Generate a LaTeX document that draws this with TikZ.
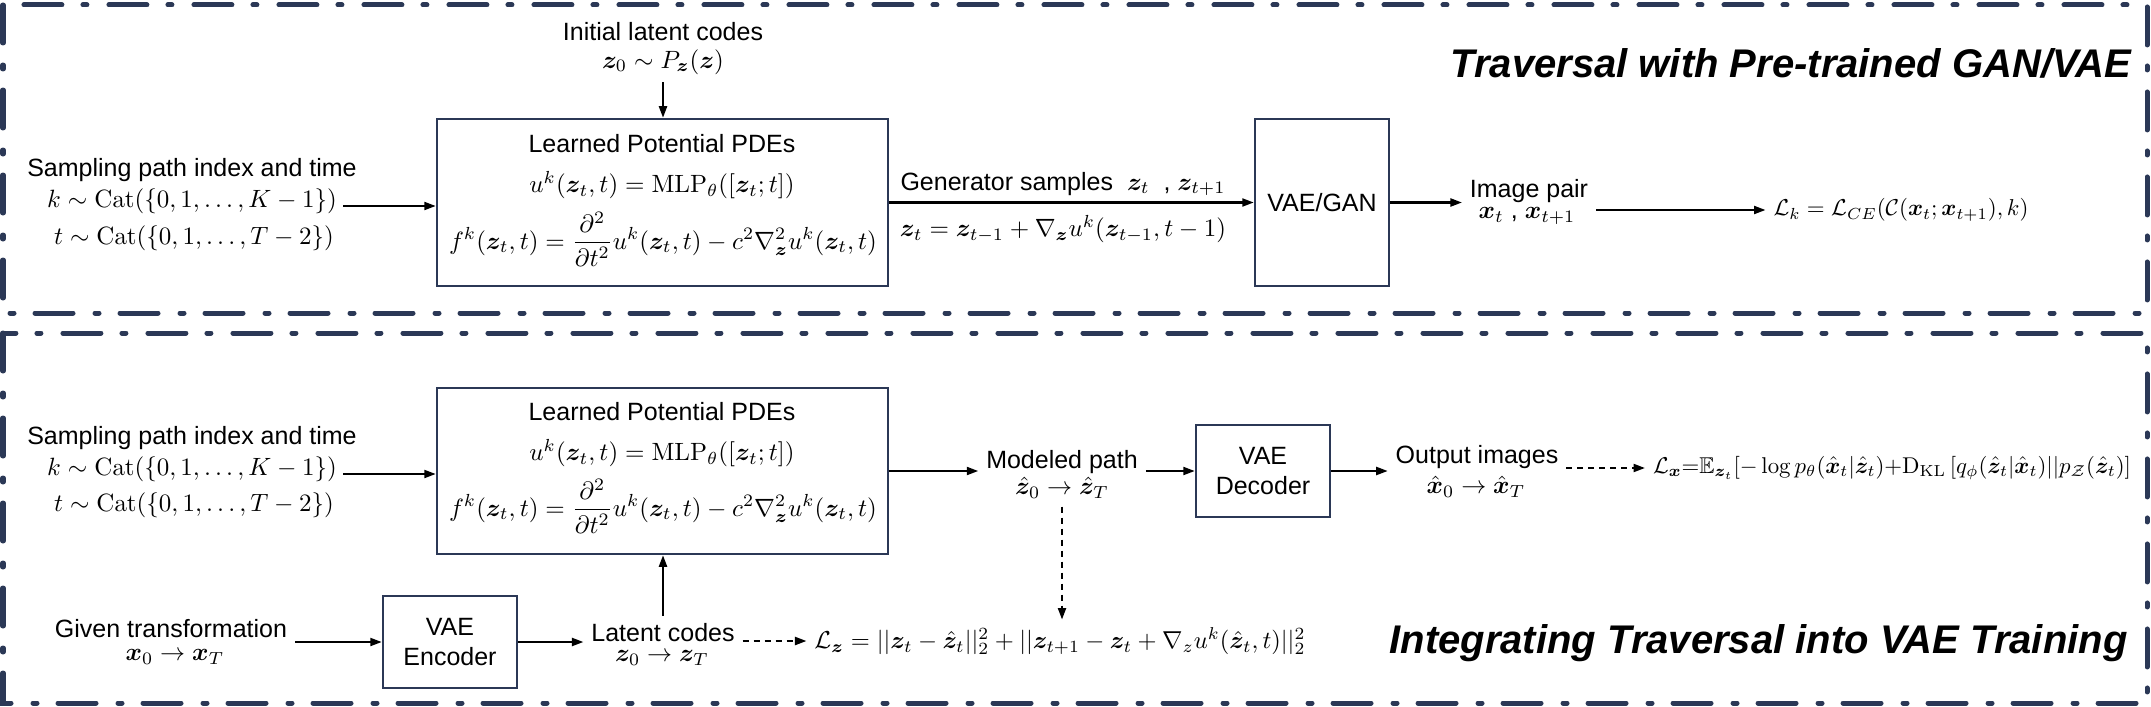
\documentclass[tikz,border=0pt]{standalone}
\usepackage{amsmath,amssymb,bm,graphicx}
\usepackage[no-math]{fontspec}
\setmainfont{Liberation Sans}
\usetikzlibrary{arrows.meta}
\definecolor{navy}{HTML}{2B3856}
\begin{document}
\begin{tikzpicture}[x=0.4pt,y=-0.4pt,
  frame/.style={draw=navy, line width=2pt, line cap=round, dash pattern=on 15.2pt off 8.8pt on 1.6pt off 8.4pt},
  boxst/.style={draw=navy, line width=1pt, inner sep=0pt, align=center, font=\fontsize{10}{12}\selectfont},
  arr/.style={-{Triangle[length=4.6pt,width=3.2pt]}, line width=0.85pt},
  darr/.style={arr, dash pattern=on 2.4pt off 2pt},
  txt/.style={font=\fontsize{10}{12}\selectfont, inner sep=0pt, outer sep=3.2pt},
  ttl/.style={font=\fontsize{16}{19}\selectfont\bfseries\itshape, inner sep=0pt}]
\useasboundingbox (0,0) rectangle (2151,706);
% frames
\draw[frame] (3,5) rectangle (2147,313);
\draw[frame] (3,333) rectangle (2147,703);
% ---------------- top panel
\node[boxst, minimum width=180.4pt, minimum height=66.8pt] (learnA) at (662.5,202.5) {};
\node[txt] (learnAt) at (662,144) {Learned Potential PDEs};
\node[txt] (learnAu) at (662,185) {$u^k(\bm z_t,t)=\mathrm{MLP}_\theta([\bm z_t;t])$};
\node[txt] (learnAf) at (663,239) {$f^k(\bm z_t,t)=\dfrac{\partial^2}{\partial t^2}u^k(\bm z_t,t)-c^2\nabla^2_{\bm z}u^k(\bm z_t,t)$};
\node[txt] (sampA) at (192,170) {Sampling path index and time};
\node[txt] (sampAk) at (192,201) {$k\sim\mathrm{Cat}(\{0,1,\ldots,K-1\})$};
\node[txt] (sampAt) at (194,238) {$t\sim\mathrm{Cat}(\{0,1,\ldots,T-2\})$};
\coordinate (sampAo) at (343,206);
\draw[arr] (sampAo) -- (sampAo -| learnA.west);
\node[txt] (initT) at (663,32) {Initial latent codes};
\node[txt] (initZ) at (663,62) {$\bm z_0\sim P_{\bm z}(\bm z)$};
\draw[arr] (initZ.south) -- (initZ.south |- learnA.north);
\node[boxst, minimum width=53.6pt, minimum height=66.8pt] (vaegan) at (1322,202.5) {VAE/GAN};
\draw[arr] (learnA.east) -- (vaegan.west);
\node[txt] (genT) at (1063,184) {Generator samples \;$\bm z_t$\; , $\bm z_{t+1}$};
\node[txt] (genF) at (1063,229) {$\bm z_t=\bm z_{t-1}+\nabla_{\bm z}u^k(\bm z_{t-1},t-1)$};
\node[txt] (imgT) at (1529,191) {Image pair};
\node[txt] (imgX) at (1527,216) {$\bm x_t$ , $\bm x_{t+1}$};
\draw[arr] (vaegan.east) -- (vaegan.east -| imgT.west);
\node[txt] (Lk) at (1901,210) {\resizebox{102pt}{!}{$\mathcal L_k=\mathcal L_{CE}(\mathcal C(\bm x_t;\bm x_{t+1}),k)$}};
\draw[arr] (imgT.east |- Lk.west) -- (Lk.west);
\node[ttl, anchor=east] (titleA) at (2132,63) {Traversal with Pre-trained GAN/VAE};
% ---------------- bottom panel
\node[boxst, minimum width=180.4pt, minimum height=66.4pt] (learnB) at (662.5,471) {};
\node[txt] (learnBt) at (662,412) {Learned Potential PDEs};
\node[txt] (learnBu) at (662,453) {$u^k(\bm z_t,t)=\mathrm{MLP}_\theta([\bm z_t;t])$};
\node[txt] (learnBf) at (663,506) {$f^k(\bm z_t,t)=\dfrac{\partial^2}{\partial t^2}u^k(\bm z_t,t)-c^2\nabla^2_{\bm z}u^k(\bm z_t,t)$};
\node[txt] (sampB) at (192,438) {Sampling path index and time};
\node[txt] (sampBk) at (192,469) {$k\sim\mathrm{Cat}(\{0,1,\ldots,K-1\})$};
\node[txt] (sampBt) at (194,505) {$t\sim\mathrm{Cat}(\{0,1,\ldots,T-2\})$};
\coordinate (sampBo) at (343,474);
\draw[arr] (sampBo) -- (sampBo -| learnB.west);
\node[txt] (givT) at (171,629) {Given transformation};
\node[txt] (givX) at (175,657) {$\bm x_0\rightarrow\bm x_T$};
\node[boxst, minimum width=53.6pt, minimum height=36.8pt] (enc) at (450,642) {VAE\\Encoder};
\draw[arr] (givT.east |- enc.west) -- (enc.west);
\node[txt] (latT) at (663,633) {Latent codes};
\node[txt] (latZ) at (662,658) {$\bm z_0\rightarrow\bm z_T$};
\draw[arr] (enc.east) -- (enc.east -| latT.west);
\draw[arr] (latT.north) -- (latT.north |- learnB.south);
\node[txt] (Lz) at (1060,641) {\resizebox{196.4pt}{!}{$\mathcal L_{\bm z}=||\bm z_t-\hat{\bm z}_t||_2^2+||\bm z_{t+1}-\bm z_t+\nabla_z u^k(\hat{\bm z}_t,t)||_2^2$}};
\draw[darr] (latT.east |- Lz.west) -- (Lz.west);
\node[txt] (modT) at (1062,462) {Modeled path};
\node[txt] (modZ) at (1062,488) {$\hat{\bm z}_0\rightarrow\hat{\bm z}_T$};
\draw[arr] (learnB.east) -- (learnB.east -| modT.west);
\draw[darr] (modZ.south) -- (modZ.south |- Lz.north);
\node[boxst, minimum width=53.6pt, minimum height=36.8pt] (dec) at (1263,471) {VAE\\Decoder};
\draw[arr] (modT.east |- dec.west) -- (dec.west);
\node[txt] (outT) at (1477,457) {Output images};
\node[txt] (outX) at (1476,487) {$\hat{\bm x}_0\rightarrow\hat{\bm x}_T$};
\draw[arr] (dec.east) -- (dec.east -| outT.west);
\node[txt] (Lx) at (1892,468) {\resizebox{191.2pt}{!}{$\mathcal L_{\bm x}{=}\mathbb E_{\bm z_t}[-\log p_\theta(\hat{\bm x}_t|\hat{\bm z}_t){+}\mathrm D_{\mathrm{KL}}\,[q_\phi(\hat{\bm z}_t|\hat{\bm x}_t)||p_{\mathcal Z}(\hat{\bm z}_t)]$}};
\draw[darr] (outT.east |- Lx.west) -- (Lx.west);
\node[ttl, anchor=east] (titleB) at (2128,643) {Integrating Traversal into VAE Training};
\end{tikzpicture}
\end{document}
